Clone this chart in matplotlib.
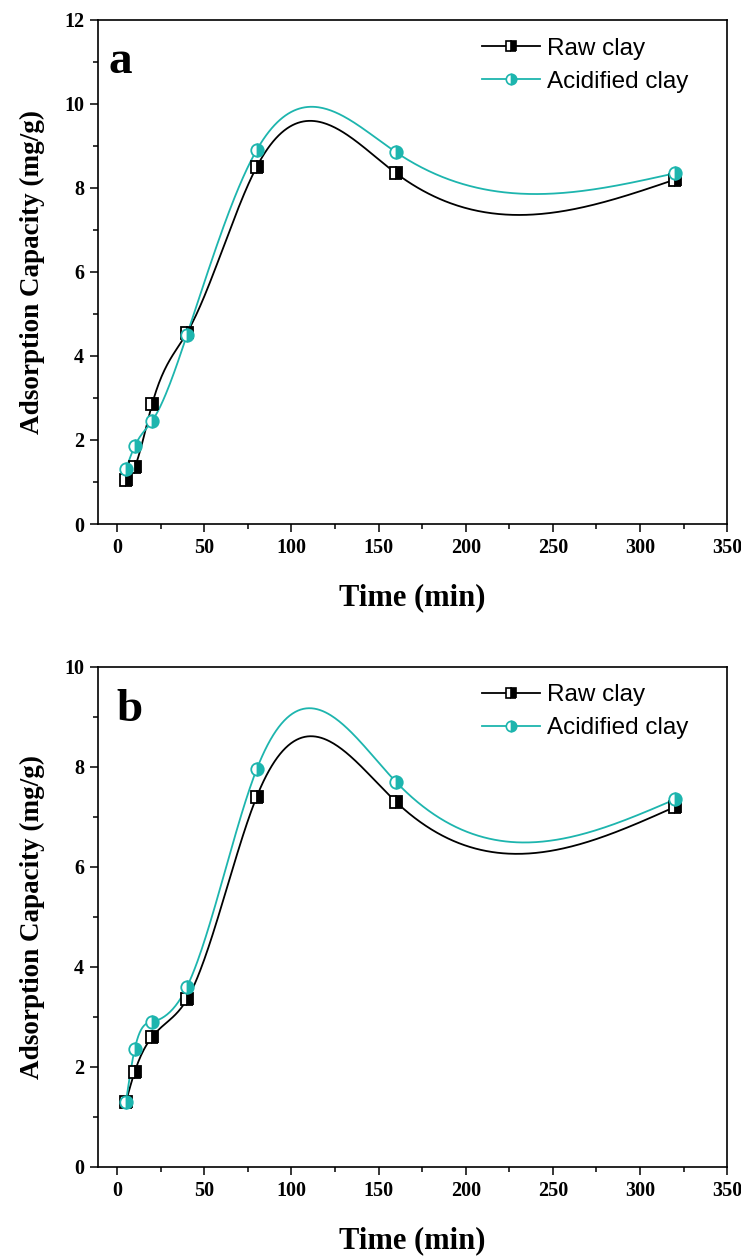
import numpy as np
import matplotlib.pyplot as plt
from matplotlib.ticker import MultipleLocator

# data
time_min = [5, 10, 20, 40, 80, 160, 320]

raw_a = [1.05, 1.35, 2.85, 4.55, 8.5, 8.35, 8.2]
acid_a = [1.3, 1.85, 2.45, 4.5, 8.9, 8.85, 8.35]

raw_b = [1.3, 1.9, 2.6, 3.35, 7.4, 7.3, 7.2]
acid_b = [1.3, 2.35, 2.9, 3.6, 7.95, 7.7, 7.35]

teal = '#1db5ae'


def natural_spline(x, y, n=400):
    # plain natural cubic spline, like Origin's spline connection
    x = np.asarray(x, float)
    y = np.asarray(y, float)
    k = len(x)
    h = np.diff(x)
    A = np.zeros((k, k))
    b = np.zeros(k)
    A[0, 0] = 1
    A[-1, -1] = 1
    for i in range(1, k - 1):
        A[i, i - 1] = h[i - 1]
        A[i, i] = 2 * (h[i - 1] + h[i])
        A[i, i + 1] = h[i]
        b[i] = 3 * ((y[i + 1] - y[i]) / h[i] - (y[i] - y[i - 1]) / h[i - 1])
    c = np.linalg.solve(A, b)
    xs = np.linspace(x[0], x[-1], n)
    ys = np.empty_like(xs)
    for j, xv in enumerate(xs):
        i = min(np.searchsorted(x, xv, side='right') - 1, k - 2)
        bi = (y[i + 1] - y[i]) / h[i] - h[i] * (2 * c[i] + c[i + 1]) / 3
        di = (c[i + 1] - c[i]) / (3 * h[i])
        dx = xv - x[i]
        ys[j] = y[i] + bi * dx + c[i] * dx ** 2 + di * dx ** 3
    return xs, ys


fig = plt.figure(figsize=(7.41, 12.56), dpi=100)
ax_a = fig.add_axes([0.1323, 0.5828, 0.849, 0.4013])
ax_b = fig.add_axes([0.1323, 0.0709, 0.849, 0.3981])

panels = [(ax_a, raw_a, acid_a, 12, 'a', 0.016, 0.895),
          (ax_b, raw_b, acid_b, 10, 'b', 0.03, 0.892)]

for ax, raw, acid, ytop, letter, lx, ly in panels:
    for vals, col, mk, ms, lab in [(raw, 'black', 's', 8.5, 'Raw clay'),
                                   (acid, teal, 'o', 9, 'Acidified clay')]:
        xs, ys = natural_spline(time_min, vals)
        ax.plot(xs, ys, color=col, lw=1.3, zorder=2)
        ax.plot(time_min, vals, ls='none', marker=mk, ms=ms, mec=col, mfc=col,
                mfcalt='white', fillstyle='right', mew=1.3, zorder=3)
        # legend proxy
        ax.plot([], [], color=col, lw=1.3, marker=mk, ms=ms - 1.5, mec=col, mfc=col,
                mfcalt='white', fillstyle='right', mew=1.2, label=lab)

    ax.set_xlim(-11, 350)
    ax.set_ylim(0, ytop)
    ax.xaxis.set_major_locator(MultipleLocator(50))
    ax.xaxis.set_minor_locator(MultipleLocator(25))
    ax.yaxis.set_major_locator(MultipleLocator(2))
    ax.yaxis.set_minor_locator(MultipleLocator(1))
    ax.tick_params(which='both', direction='out', width=1.1)
    ax.tick_params(which='major', length=6, pad=4)
    ax.tick_params(which='minor', length=3.5)
    for sp in ax.spines.values():
        sp.set_linewidth(1.2)
    for t in ax.get_xticklabels() + ax.get_yticklabels():
        t.set_fontfamily('Liberation Serif')
        t.set_fontweight('bold')
        t.set_fontsize(14.5)

    ax.set_xlabel('Time (min)', family='Liberation Serif', weight='bold',
                  fontsize=22, labelpad=18)
    ax.set_ylabel('Adsorption Capacity (mg/g)', family='Liberation Serif',
                  weight='bold', fontsize=19.5, labelpad=14)
    ax.text(lx, ly, letter, transform=ax.transAxes, ha='left', va='baseline',
            family='Liberation Serif', weight='bold', fontsize=34)

    ax.legend(loc='upper left', bbox_to_anchor=(0.61, 0.965), frameon=False,
              borderaxespad=0, borderpad=0,
              prop={'family': 'Liberation Sans', 'size': 17.5},
              handlelength=2.4, handletextpad=0.3, labelspacing=0.45)

fig.savefig('out.png', dpi=100)
